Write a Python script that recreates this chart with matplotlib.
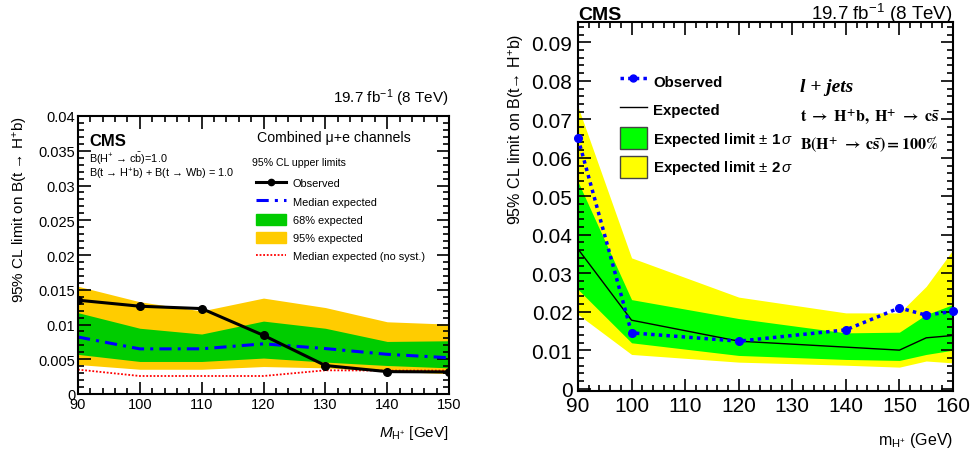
import matplotlib
matplotlib.use("Agg")
import matplotlib.pyplot as plt
import matplotlib.patches as patches
from matplotlib.lines import Line2D
from matplotlib.ticker import MultipleLocator, FuncFormatter

plt.rcParams['font.family'] = ['Liberation Sans', 'DejaVu Sans']
plt.rcParams['mathtext.fontset'] = 'custom'
plt.rcParams['mathtext.rm'] = 'Liberation Sans'
plt.rcParams['mathtext.it'] = 'Liberation Sans:italic'
plt.rcParams['mathtext.bf'] = 'Liberation Sans:bold'

# left panel: combined mu+e channels
mass_l = [90, 100, 110, 120, 130, 140, 150]
obs_l = [0.0135, 0.01263, 0.01229, 0.00844, 0.0041, 0.00322, 0.00317]
exp_l = [0.0082, 0.00649, 0.0065, 0.00722, 0.00654, 0.00571, 0.00522]
s1_hi_l = [0.0117, 0.00946, 0.00863, 0.01049, 0.00946, 0.00756, 0.00766]
s1_lo_l = [0.0057, 0.00468, 0.00468, 0.00517, 0.00459, 0.0041, 0.00376]
s2_hi_l = [0.0155, 0.01327, 0.01195, 0.0138, 0.01244, 0.01039, 0.01005]
s2_lo_l = [0.00424, 0.00356, 0.00356, 0.00395, 0.00376, 0.00327, 0.00293]
nosyst_l = [0.00351, 0.00259, 0.00259, 0.00259, 0.00341, 0.00337, 0.00337]

# right panel: l + jets, H+ -> cs
mass_r = [90, 100, 120, 140, 150, 155, 160]
obs_r = [0.0651, 0.01451, 0.01235, 0.01529, 0.021, 0.0191, 0.0201]
exp_r = [0.0363, 0.0178, 0.01235, 0.0108, 0.01002, 0.01322, 0.01382]
s1_hi_r = [0.0538, 0.02315, 0.01823, 0.01451, 0.01469, 0.01927, 0.02186]
s1_lo_r = [0.0258, 0.01193, 0.00864, 0.0076, 0.00734, 0.0089, 0.01002]
s2_hi_r = [0.0733, 0.034, 0.0238, 0.0197, 0.0197, 0.0266, 0.0361]
s2_lo_r = [0.0193, 0.0089, 0.0069, 0.0061, 0.0056, 0.0072, 0.0067]

W, H = 974, 452
fig = plt.figure(figsize=(W / 100, H / 100), dpi=100)


def px_axes(x0, y0, x1, y1):
    return fig.add_axes([x0 / W, 1 - y1 / H, (x1 - x0) / W, (y1 - y0) / H])


def root_ticks(ax, size):
    ax.tick_params(which='both', direction='in', top=True, right=True, labelsize=size, width=1.2)
    ax.tick_params(which='major', length=9)
    ax.tick_params(which='minor', length=4.5)
    for s in ax.spines.values():
        s.set_linewidth(1.5)


def zero_fmt(fmt):
    return FuncFormatter(lambda v, p: '0' if abs(v) < 1e-9 else fmt.format(v))


# ---- left
ax1 = px_axes(78, 117, 449, 395)
ax1.fill_between(mass_l, s2_lo_l, s2_hi_l, color='#ffcc00', lw=0)
ax1.fill_between(mass_l, s1_lo_l, s1_hi_l, color='#00cc00', lw=0)
ax1.plot(mass_l, nosyst_l, color='red', ls=(0, (1, 1)), lw=1.3)
ax1.plot(mass_l, exp_l, color='blue', ls=(0, (4, 2, 1, 2)), lw=2.2)
ax1.plot(mass_l, obs_l, color='black', lw=2.2, marker='o', ms=5.5)
ax1.set_xlim(90, 150)
ax1.set_ylim(0, 0.04)
ax1.xaxis.set_major_locator(MultipleLocator(10))
ax1.xaxis.set_minor_locator(MultipleLocator(2))
ax1.yaxis.set_major_locator(MultipleLocator(0.005))
ax1.yaxis.set_minor_locator(MultipleLocator(0.001))
ax1.yaxis.set_major_formatter(zero_fmt('{:g}'))
root_ticks(ax1, 10.5)
ax1.tick_params(axis='x', pad=2)
ax1.tick_params(axis='y', pad=2)
ax1.set_ylabel(r'95% CL limit on B(t → H$^{+}$b)', fontsize=11)
ax1.yaxis.set_label_coords(-0.13, 0.665)
ax1.set_xlabel(r'$M_{\mathregular{H^{+}}}$ [GeV]', fontsize=11)
ax1.xaxis.set_label_coords(1.0, -0.105)
ax1.xaxis.label.set_horizontalalignment('right')
ax1.text(1.0, 1.03, r'19.7 fb$^{-1}$ (8 TeV)', transform=ax1.transAxes, ha='right', va='bottom', fontsize=11)
ax1.text(0.03, 0.94, 'CMS', transform=ax1.transAxes, fontsize=12, fontweight='bold', va='top')
ax1.text(0.03, 0.85, r'B(H$^{+}$ → c$\bar{\mathregular{b}}$)=1.0', transform=ax1.transAxes, fontsize=7.8, va='center')
ax1.text(0.03, 0.795, r'B(t → H$^{+}$b) + B(t → Wb) = 1.0', transform=ax1.transAxes, fontsize=7.8, va='center')
ax1.text(0.483, 0.925, 'Combined μ+e channels', transform=ax1.transAxes, fontsize=10.2, va='center')
ax1.text(0.47, 0.835, '95% CL upper limits', transform=ax1.transAxes, fontsize=7.6, va='center')

h_l = [Line2D([], [], color='black', lw=2.2, marker='o', ms=4.5),
       Line2D([], [], color='blue', ls=(0, (4, 2, 1, 2)), lw=2.2),
       patches.Patch(color='#00cc00'),
       patches.Patch(color='#ffcc00'),
       Line2D([], [], color='red', ls=(0, (1, 1)), lw=1.3)]
lab_l = ['Observed', 'Median expected', '68% expected', '95% expected', 'Median expected (no syst.)']
ax1.legend(h_l, lab_l, loc='upper left', bbox_to_anchor=(0.464, 0.80), frameon=False, fontsize=7.9,
           handlelength=2.8, handleheight=1.2, labelspacing=0.63, handletextpad=0.6, borderpad=0)

# ---- right
ax2 = px_axes(578, 23, 953, 392)
ax2.fill_between(mass_r, s2_lo_r, s2_hi_r, color='#ffff00', lw=0)
ax2.fill_between(mass_r, s1_lo_r, s1_hi_r, color='#00ff00', lw=0)
ax2.plot(mass_r, exp_r, color='black', lw=1.0)
ax2.plot(mass_r, obs_r, color='blue', ls=(0, (1, 1.2)), lw=2.5, marker='o', ms=5.5, clip_on=False, zorder=5)
ax2.set_xlim(90, 160)
ax2.set_ylim(-0.0006, 0.0953)
ax2.xaxis.set_major_locator(MultipleLocator(10))
ax2.xaxis.set_minor_locator(MultipleLocator(2))
ax2.yaxis.set_major_locator(MultipleLocator(0.01))
ax2.yaxis.set_minor_locator(MultipleLocator(0.002))
ax2.yaxis.set_major_formatter(zero_fmt('{:.2f}'))
root_ticks(ax2, 15)
ax2.tick_params(axis='y', pad=4)
ax2.set_ylabel(r'95% CL limit on B(t→ H$^{+}$b)', fontsize=11.5)
ax2.yaxis.set_label_coords(-0.14, 0.713)
ax2.set_xlabel(r'm$_{\mathregular{H^{+}}}$ (GeV)', fontsize=11.5)
ax2.xaxis.set_label_coords(1.0, -0.105)
ax2.xaxis.label.set_horizontalalignment('right')
ax2.text(0.0, 1.008, 'CMS', transform=ax2.transAxes, fontsize=14, fontweight='bold', va='baseline', ha='left')
ax2.text(1.0, 1.008, r'19.7 fb$^{-1}$ (8 TeV)', transform=ax2.transAxes, fontsize=13.5, va='baseline', ha='right')
ax2.text(0.592, 0.824, 'l + jets', transform=ax2.transAxes, fontsize=14, fontweight='bold', style='italic',
         family='Liberation Serif', va='center')
ax2.text(0.592, 0.745, r'$\mathbf{t\ \rightarrow\ H^{+}b,\ H^{+}\ \rightarrow\ c\bar{s}}$', transform=ax2.transAxes,
         fontsize=11.5, va='center', math_fontfamily='stix')
ax2.text(0.592, 0.669, r'$\mathbf{B(H^{+}\ \rightarrow\ c\bar{s})=100\%}$', transform=ax2.transAxes,
         fontsize=11.5, va='center', math_fontfamily='stix')

h_r = [Line2D([], [], color='blue', ls=(0, (1, 1.2)), lw=2.5, marker='o', ms=5),
       Line2D([], [], color='black', lw=1.0),
       patches.Patch(facecolor='#00ff00', edgecolor='#444444'),
       patches.Patch(facecolor='#ffff00', edgecolor='#444444')]
lab_r = ['Observed', 'Expected', r'Expected limit $\pm$ 1$\,\sigma$', r'Expected limit $\pm$ 2$\,\sigma$']
ax2.legend(h_r, lab_r, loc='upper left', bbox_to_anchor=(0.091, 0.89), frameon=False,
           handlelength=1.8, handleheight=1.9, labelspacing=0.42, handletextpad=0.45, borderpad=0,
           prop={'weight': 'bold', 'size': 10.8})

fig.savefig('out.png', dpi=100)
